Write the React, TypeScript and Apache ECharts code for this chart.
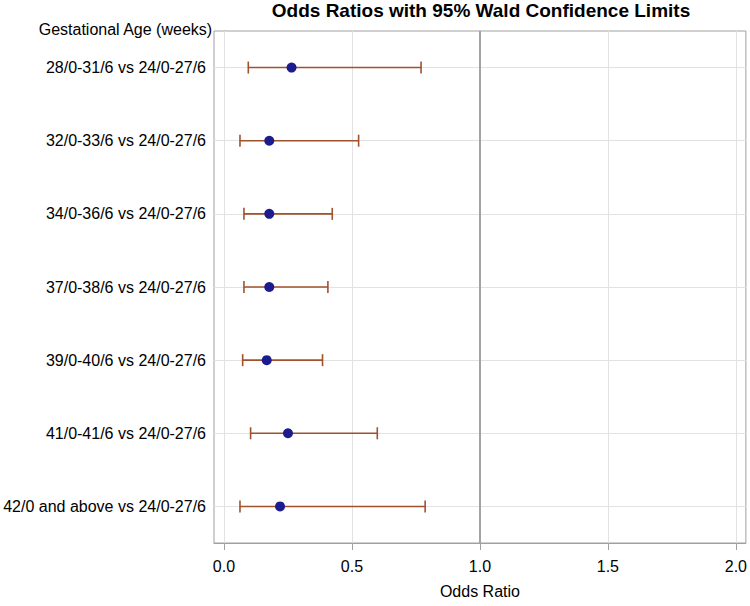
import React, { useEffect, useRef } from "react";
import * as echarts from "echarts";

const categories = [
  "28/0-31/6 vs 24/0-27/6",
  "32/0-33/6 vs 24/0-27/6",
  "34/0-36/6 vs 24/0-27/6",
  "37/0-38/6 vs 24/0-27/6",
  "39/0-40/6 vs 24/0-27/6",
  "41/0-41/6 vs 24/0-27/6",
  "42/0 and above vs 24/0-27/6",
];
const estimates = [0.264, 0.177, 0.177, 0.177, 0.167, 0.25, 0.219];
const lowerCL = [0.095, 0.0625, 0.078, 0.078, 0.073, 0.104, 0.0625];
const upperCL = [0.77, 0.526, 0.423, 0.406, 0.385, 0.599, 0.786];
const xTicks = [0, 0.5, 1.0, 1.5, 2.0];
const referenceValue = 1.0;

const FONT = "'Liberation Sans', Arial, sans-serif";

export default function App() {
  const ref = useRef<HTMLDivElement>(null);
  useEffect(() => {
    if (!ref.current) return;
    const chart = echarts.init(ref.current, null, { renderer: "svg" });
    const gridLineStyle = { color: "#e2e2e2", width: 1, type: "solid" as const };
    const option: any = {
      animation: false,
      backgroundColor: "#ffffff",
      textStyle: { fontFamily: FONT },
      title: [
        {
          text: "Odds Ratios with 95% Wald Confidence Limits",
          left: 481,
          textAlign: "center",
          top: 1,
          padding: 0,
          textStyle: { fontFamily: FONT, fontSize: 19, fontWeight: "bold", color: "#000" },
        },
        {
          text: "Gestational Age (weeks)",
          right: 537,
          top: 21,
          padding: 0,
          textStyle: { fontFamily: FONT, fontSize: 16, fontWeight: "normal", color: "#000" },
        },
      ],
      grid: {
        left: 214,
        right: 4,
        top: 31,
        bottom: 63,
        show: true,
        borderColor: "#a0a0a0",
        borderWidth: 1,
        backgroundColor: "transparent",
        containLabel: false,
      },
      xAxis: {
        type: "value",
        min: -0.039,
        max: 2.039,
        name: "Odds Ratio",
        nameLocation: "middle",
        nameGap: 40,
        nameTextStyle: { fontFamily: FONT, fontSize: 16, color: "#000" },
        axisLine: { show: true, lineStyle: { color: "#a0a0a0", width: 1 } },
        axisTick: {
          show: true,
          length: 7,
          customValues: xTicks,
          lineStyle: { color: "#a0a0a0" },
        },
        axisLabel: {
          customValues: xTicks,
          margin: 15,
          fontFamily: FONT,
          fontSize: 16,
          color: "#000",
          formatter: (v: number) => v.toFixed(1),
        },
        splitLine: { show: false },
      },
      yAxis: {
        type: "category",
        data: categories,
        inverse: true,
        axisLine: { show: true, lineStyle: { color: "#a0a0a0", width: 1 } },
        axisTick: { show: false },
        axisLabel: { margin: 8, fontFamily: FONT, fontSize: 16, color: "#000" },
        splitLine: { show: false },
      },
      series: [
        {
          type: "line",
          data: [],
          silent: true,
          z: 1,
          markLine: {
            silent: true,
            z: 1,
            symbol: "none",
            label: { show: false },
            lineStyle: gridLineStyle,
            data: [
              ...xTicks
                .filter((t) => t !== referenceValue)
                .map((t) => ({ xAxis: t })),
              ...categories.map((c) => ({ yAxis: c })),
            ],
          },
        },
        {
          type: "line",
          data: [],
          silent: true,
          z: 2,
          markLine: {
            silent: true,
            z: 2,
            symbol: "none",
            label: { show: false },
            lineStyle: { color: "#a3a3a3", width: 2, type: "solid" },
            data: [{ xAxis: referenceValue }],
          },
        },
        {
          type: "custom",
          z: 6,
          data: categories.map((c, i) => [lowerCL[i], upperCL[i], i]),
          encode: { x: [0, 1], y: 2 },
          renderItem: (params: any, api: any) => {
            const lo = api.coord([api.value(0), api.value(2)]);
            const hi = api.coord([api.value(1), api.value(2)]);
            const h = 6;
            const style = { stroke: "#a0522d", lineWidth: 1.6, fill: "none" };
            return {
              type: "group",
              children: [
                { type: "line", shape: { x1: lo[0], y1: lo[1], x2: hi[0], y2: hi[1] }, style },
                { type: "line", shape: { x1: lo[0], y1: lo[1] - h, x2: lo[0], y2: lo[1] + h }, style },
                { type: "line", shape: { x1: hi[0], y1: hi[1] - h, x2: hi[0], y2: hi[1] + h }, style },
              ],
            };
          },
        },
        {
          type: "scatter",
          z: 7,
          symbol: "circle",
          symbolSize: 10,
          itemStyle: { color: "#1c1c8e", opacity: 1 },
          data: categories.map((c, i) => [estimates[i], c]),
        },
      ],
    };
    chart.setOption(option);
    return () => chart.dispose();
  }, []);
  return <div ref={ref} style={{ width: 750, height: 606, position: "absolute", left: 0, top: 0 }} />;
}
